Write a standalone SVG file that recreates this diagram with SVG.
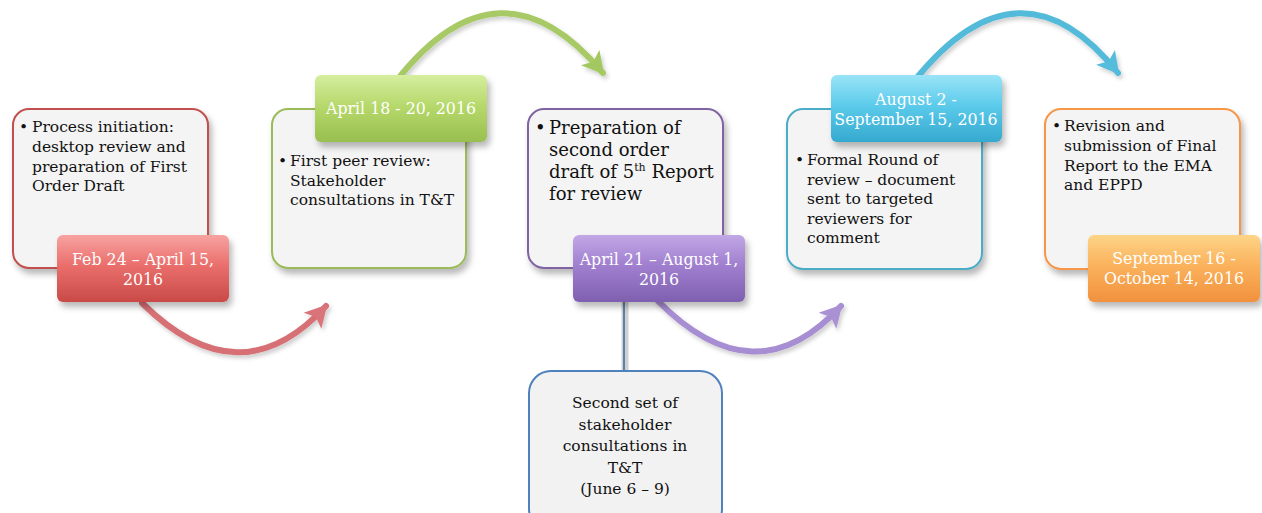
<svg xmlns="http://www.w3.org/2000/svg" width="1262" height="513" viewBox="0 0 1262 513">
  <defs>
    <filter id="sh" x="-10%" y="-10%" width="130%" height="140%">
      <feDropShadow dx="3" dy="5" stdDeviation="3" flood-color="#000" flood-opacity="0.28"/>
    </filter>
    <filter id="ash" x="-20%" y="-20%" width="140%" height="160%">
      <feDropShadow dx="2" dy="3" stdDeviation="2" flood-color="#000" flood-opacity="0.2"/>
    </filter>
    <linearGradient id="gRed" x1="0" y1="0" x2="0" y2="1">
      <stop offset="0" stop-color="#f7a3a1"/>
      <stop offset="0.45" stop-color="#ea6f6c"/>
      <stop offset="1" stop-color="#c94a47"/>
    </linearGradient>
    <linearGradient id="gGreen" x1="0" y1="0" x2="0" y2="1">
      <stop offset="0" stop-color="#d6ee9f"/>
      <stop offset="0.45" stop-color="#b7d96c"/>
      <stop offset="1" stop-color="#98bf4f"/>
    </linearGradient>
    <linearGradient id="gPurple" x1="0" y1="0" x2="0" y2="1">
      <stop offset="0" stop-color="#c2a8e6"/>
      <stop offset="0.45" stop-color="#a07fcf"/>
      <stop offset="1" stop-color="#7f5fb0"/>
    </linearGradient>
    <linearGradient id="gBlue" x1="0" y1="0" x2="0" y2="1">
      <stop offset="0" stop-color="#9ae4f7"/>
      <stop offset="0.45" stop-color="#5ccbeb"/>
      <stop offset="1" stop-color="#35a9cf"/>
    </linearGradient>
    <linearGradient id="gOrange" x1="0" y1="0" x2="0" y2="1">
      <stop offset="0" stop-color="#fdd487"/>
      <stop offset="0.45" stop-color="#fbb25c"/>
      <stop offset="1" stop-color="#f1913e"/>
    </linearGradient>
    <marker id="mRed" viewBox="0 0 30 30" markerWidth="30" markerHeight="30" refX="24" refY="15" orient="auto" markerUnits="userSpaceOnUse">
      <path d="M4,3 L26,15 L4,27 L9,15 Z" fill="#d9747a"/>
    </marker>
    <marker id="mGreen" viewBox="0 0 30 30" markerWidth="30" markerHeight="30" refX="24" refY="15" orient="auto" markerUnits="userSpaceOnUse">
      <path d="M4,3 L26,15 L4,27 L9,15 Z" fill="#a3c862"/>
    </marker>
    <marker id="mPurple" viewBox="0 0 30 30" markerWidth="30" markerHeight="30" refX="24" refY="15" orient="auto" markerUnits="userSpaceOnUse">
      <path d="M4,3 L26,15 L4,27 L9,15 Z" fill="#a991d3"/>
    </marker>
    <marker id="mBlue" viewBox="0 0 30 30" markerWidth="30" markerHeight="30" refX="24" refY="15" orient="auto" markerUnits="userSpaceOnUse">
      <path d="M4,3 L26,15 L4,27 L9,15 Z" fill="#56bcdb"/>
    </marker>
  </defs>
  <style>
    .card { fill: #f4f4f4; stroke-width: 2; filter: url(#sh); }
    .date { stroke: none; filter: url(#sh); }
    .body { font-family: "DejaVu Serif", "Liberation Serif", serif; font-size: 15.5px; fill: #111; }
    .big { font-family: "DejaVu Serif", "Liberation Serif", serif; font-size: 18px; fill: #111; }
    .dt { font-family: "DejaVu Serif", "Liberation Serif", serif; font-size: 15.8px; fill: #ffffff; text-anchor: middle; }
    .arc { fill: none; stroke-width: 6; stroke-linecap: round; filter: url(#ash); }
  </style>

  <rect width="1262" height="513" fill="#ffffff"/>

  <g id="connectors">
    <path class="arc" d="M 142 303 Q 240 400 326 306" stroke="#d66f75" marker-end="url(#mRed)"/>
    <path class="arc" d="M 397 80 Q 500 -50 603 73" stroke="#a8ca66" marker-end="url(#mGreen)"/>
    <path class="arc" d="M 657 300 Q 755 400 841 306" stroke="#a78dd1" marker-end="url(#mPurple)"/>
    <path class="arc" d="M 915 80 Q 1020 -50 1118 73" stroke="#52bad9" marker-end="url(#mBlue)"/>
    <line x1="625" y1="302" x2="625" y2="372" stroke="#d0d0d0" stroke-width="7"/>
    <line x1="624" y1="302" x2="624" y2="372" stroke="#5b82a8" stroke-width="2"/>
  </g>

  <g id="node1">
    <rect class="card" x="13" y="109" width="195" height="159" rx="16" stroke="#c0504d"/>
    <text class="body"><tspan x="19" y="132">•</tspan><tspan x="32" y="132">Process initiation:</tspan><tspan x="32" y="152">desktop review and</tspan><tspan x="32" y="172">preparation of First</tspan><tspan x="32" y="191">Order Draft</tspan></text>
    <rect class="date" x="57" y="235" width="172" height="67" rx="6" fill="url(#gRed)"/>
    <text class="dt"><tspan x="143" y="265">Feb 24 – April 15,</tspan><tspan x="143" y="285">2016</tspan></text>
  </g>

  <g id="node2">
    <rect class="card" x="272" y="109" width="194" height="159" rx="16" stroke="#9bbb59"/>
    <rect class="date" x="315" y="75" width="172" height="67" rx="6" fill="url(#gGreen)"/>
    <text class="dt"><tspan x="401" y="114">April 18 - 20, 2016</tspan></text>
    <text class="body"><tspan x="278" y="166">•</tspan><tspan x="290" y="166">First peer review:</tspan><tspan x="290" y="186">Stakeholder</tspan><tspan x="290" y="205">consultations in T&amp;T</tspan></text>
  </g>

  <g id="node3">
    <rect class="card" x="528" y="109" width="195" height="159" rx="16" stroke="#8064a2"/>
    <text class="big"><tspan x="535" y="134">•</tspan><tspan x="549" y="134">Preparation of</tspan><tspan x="549" y="156">second order</tspan><tspan x="549" y="178">draft of 5</tspan><tspan font-size="11" dy="-7">th</tspan><tspan dy="7"> Report</tspan><tspan x="549" y="200">for review</tspan></text>
    <rect class="date" x="573" y="235" width="172" height="67" rx="6" fill="url(#gPurple)"/>
    <text class="dt"><tspan x="659" y="265">April 21 – August 1,</tspan><tspan x="659" y="285">2016</tspan></text>
  </g>

  <g id="node4">
    <rect class="card" x="787" y="109" width="195" height="160" rx="16" stroke="#4bacc6"/>
    <rect class="date" x="831" y="75" width="171" height="67" rx="6" fill="url(#gBlue)"/>
    <text class="dt"><tspan x="916" y="105">August 2 -</tspan><tspan x="916" y="125">September 15, 2016</tspan></text>
    <text class="body"><tspan x="795" y="165">•</tspan><tspan x="807" y="165">Formal Round of</tspan><tspan x="807" y="185">review – document</tspan><tspan x="807" y="204">sent to targeted</tspan><tspan x="807" y="224">reviewers for</tspan><tspan x="807" y="243">comment</tspan></text>
  </g>

  <g id="node5">
    <rect class="card" x="1045" y="109" width="195" height="160" rx="16" stroke="#f79646"/>
    <text class="body"><tspan x="1052" y="131">•</tspan><tspan x="1064" y="131">Revision and</tspan><tspan x="1064" y="151">submission of Final</tspan><tspan x="1064" y="171">Report to the EMA</tspan><tspan x="1064" y="190">and EPPD</tspan></text>
    <rect class="date" x="1088" y="235" width="172" height="67" rx="6" fill="url(#gOrange)"/>
    <text class="dt"><tspan x="1174" y="264">September 16 -</tspan><tspan x="1174" y="284">October 14, 2016</tspan></text>
  </g>

  <g id="node6">
    <rect x="529" y="371" width="193" height="160" rx="22" fill="#f2f2f2" stroke="#4f81bd" stroke-width="2"/>
    <text class="body" text-anchor="middle"><tspan x="625" y="408">Second set of</tspan><tspan x="625" y="430">stakeholder</tspan><tspan x="625" y="451">consultations in</tspan><tspan x="625" y="473">T&amp;T</tspan><tspan x="625" y="494">(June 6 – 9)</tspan></text>
  </g>
</svg>
